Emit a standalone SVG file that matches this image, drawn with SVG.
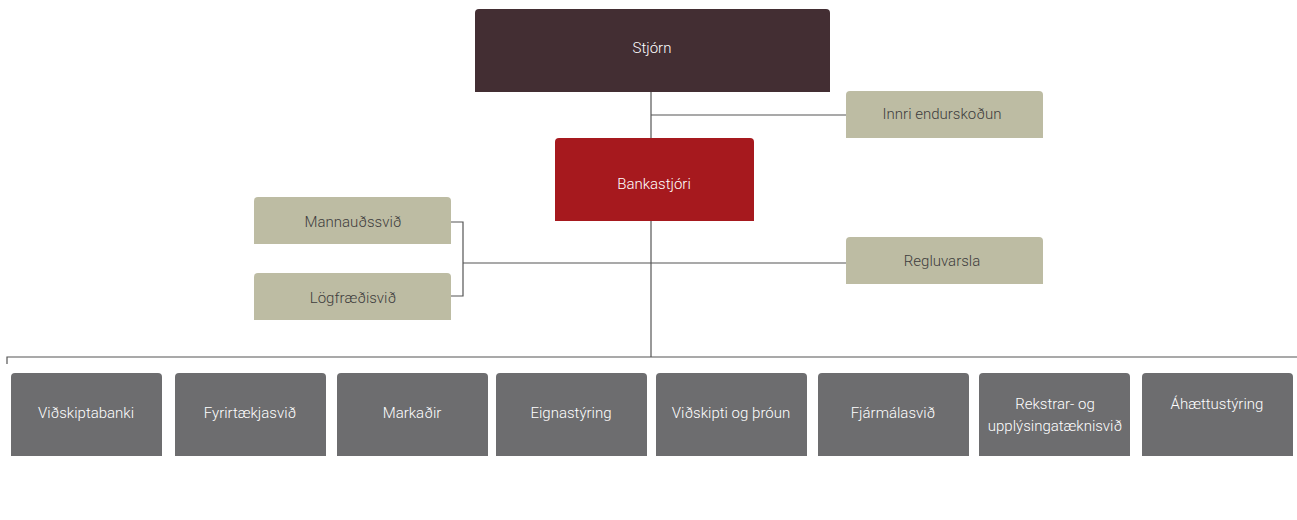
<svg xmlns="http://www.w3.org/2000/svg" width="1297" height="520" viewBox="0 0 1297 520">
<style>
text{font-family:Roboto,"Liberation Sans",sans-serif;font-size:15px;font-weight:300;text-anchor:middle;dominant-baseline:central}
.w{fill:#ffffff}
.d{fill:#3d3d3d}
.tan{fill:#bdbca3}
.gray{fill:#6d6d6f}
.ln{stroke:#555555;stroke-width:1.2;fill:none}
</style>
<defs>
<path id="tanbox" d="M0,47 V4 Q0,0 4,0 H193 Q197,0 197,4 V47 Z"/>
<path id="graybox" d="M0,83 V4 Q0,0 4,0 H147 Q151,0 151,4 V83 Z"/>
</defs>
<rect width="1297" height="520" fill="#ffffff"/>
<g id="connectors">
<path class="ln" d="M651,92 V138"/>
<path class="ln" d="M651,115 H846"/>
<path class="ln" d="M651,221 V357"/>
<path class="ln" d="M451,222 H463 V296 H451"/>
<path class="ln" d="M463,263 H846"/>
<path class="ln" d="M7,364 V357 H1297"/>
</g>
<g id="stjorn"><path d="M475,92 V13 Q475,9 479,9 H826 Q830,9 830,13 V92 Z" fill="#432e33"/><text class="w" x="652" y="48">Stjórn</text></g>
<g id="innri"><use href="#tanbox" class="tan" x="846" y="91"/><text class="d" x="942" y="114">Innri endurskoðun</text></g>
<g id="bankastjori"><path d="M555,221 V142 Q555,138 559,138 H750 Q754,138 754,142 V221 Z" fill="#a6191e"/><text class="w" x="654" y="184">Bankastjóri</text></g>
<g id="mannaudssvid"><use href="#tanbox" class="tan" x="254" y="197"/><text class="d" x="353" y="222">Mannauðssvið</text></g>
<g id="logfraedisvid"><use href="#tanbox" class="tan" x="254" y="273"/><text class="d" x="353" y="298">Lögfræðisvið</text></g>
<g id="regluvarsla"><use href="#tanbox" class="tan" x="846" y="237"/><text class="d" x="942" y="261">Regluvarsla</text></g>
<g id="vidskiptabanki"><use href="#graybox" class="gray" x="11" y="373"/><text class="w" x="86" y="413">Viðskiptabanki</text></g>
<g id="fyrirtaekjasvid"><use href="#graybox" class="gray" x="175" y="373"/><text class="w" x="250" y="413">Fyrirtækjasvið</text></g>
<g id="markadir"><use href="#graybox" class="gray" x="337" y="373"/><text class="w" x="412" y="413">Markaðir</text></g>
<g id="eignastyring"><use href="#graybox" class="gray" x="496" y="373"/><text class="w" x="571" y="413">Eignastýring</text></g>
<g id="vidskipti"><use href="#graybox" class="gray" x="656" y="373"/><text class="w" x="731" y="413">Viðskipti og þróun</text></g>
<g id="fjarmalasvid"><use href="#graybox" class="gray" x="818" y="373"/><text class="w" x="893" y="413">Fjármálasvið</text></g>
<g id="rekstrar"><use href="#graybox" class="gray" x="979" y="373"/><text class="w" x="1055" y="404">Rekstrar- og</text><text class="w" x="1055" y="426">upplýsingatæknisvið</text></g>
<g id="ahaettustyring"><use href="#graybox" class="gray" x="1142" y="373"/><text class="w" x="1217" y="404">Áhættustýring</text></g>
</svg>
